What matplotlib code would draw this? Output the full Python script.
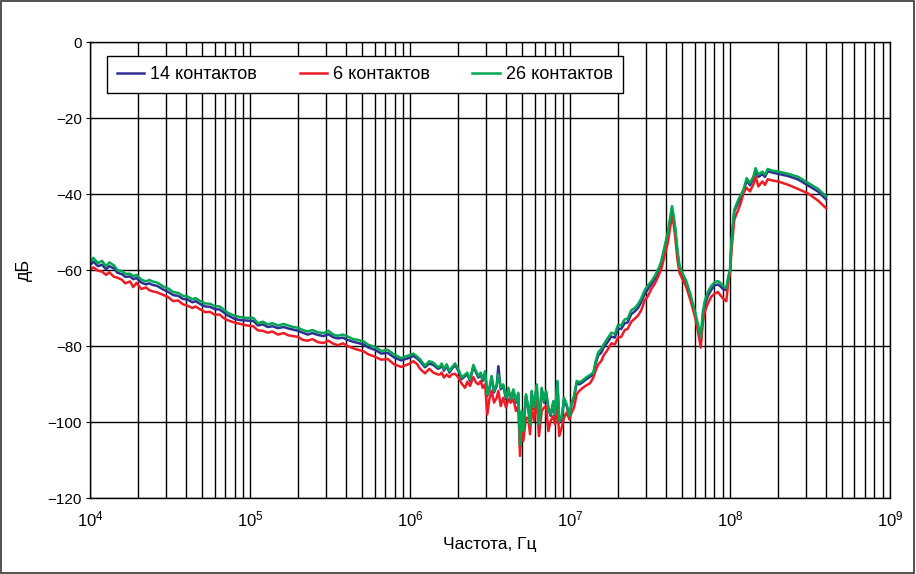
import numpy as np
import matplotlib
matplotlib.use("Agg")
import matplotlib.pyplot as plt
import matplotlib.ticker as mticker
from matplotlib import font_manager
from matplotlib.patches import Rectangle

names = {f.name for f in font_manager.fontManager.ttflist}
narrow = "Liberation Sans Narrow" if "Liberation Sans Narrow" in names else "Liberation Sans"

plt.rcParams["font.family"] = ["Liberation Sans", "DejaVu Sans"]
plt.rcParams["mathtext.fontset"] = "custom"
plt.rcParams["mathtext.rm"] = narrow
plt.rcParams["mathtext.it"] = narrow

# log10 of frequency, Hz
log_freq = [
    4.00, 4.02, 4.05, 4.075, 4.10, 4.12, 4.15, 4.17, 4.20, 4.22, 4.25, 4.27, 4.29, 4.32, 4.35, 4.37, 4.39, 4.42,
    4.46, 4.49, 4.52, 4.55, 4.58, 4.61, 4.64, 4.66, 4.69, 4.72, 4.75, 4.78, 4.81, 4.83, 4.86, 4.90, 4.94, 4.98,
    5.02, 5.05, 5.08, 5.11, 5.14, 5.175, 5.21, 5.24, 5.27, 5.30, 5.33, 5.36, 5.39, 5.425, 5.46,
    5.49, 5.52, 5.55, 5.58, 5.61, 5.645, 5.675, 5.71, 5.74, 5.78, 5.82, 5.86, 5.90, 5.945, 5.99,
    6.021, 6.045, 6.0625, 6.094, 6.12, 6.146, 6.175,
    6.1875, 6.198, 6.2125, 6.229, 6.246, 6.26, 6.281, 6.302, 6.323, 6.344, 6.358, 6.375, 6.396, 6.4125, 6.427,
    6.442, 6.454, 6.469, 6.483, 6.496, 6.51, 6.525, 6.542, 6.552, 6.567, 6.583, 6.60, 6.615, 6.629, 6.646,
    6.6625, 6.677, 6.6875, 6.698, 6.708, 6.725, 6.74, 6.75, 6.76, 6.775, 6.792, 6.806, 6.823, 6.8375, 6.85,
    6.865, 6.879, 6.896, 6.906, 6.921, 6.933, 6.948, 6.9625, 6.979, 6.996, 7.01, 7.025, 7.042, 7.058,
    7.08, 7.10, 7.125, 7.146, 7.16, 7.177, 7.195, 7.21, 7.235, 7.258, 7.28, 7.30, 7.32,
    7.342, 7.36, 7.383, 7.405, 7.425, 7.445, 7.467, 7.488, 7.508, 7.53, 7.55, 7.57, 7.59, 7.6125, 7.625, 7.6375,
    7.648, 7.658, 7.672, 7.685, 7.705, 7.727, 7.75, 7.769, 7.785, 7.80, 7.817, 7.83, 7.842, 7.862, 7.883, 7.905,
    7.925, 7.94, 7.956, 7.977, 7.99,
    8.00, 8.01, 8.027, 8.052, 8.07, 8.084, 8.104, 8.125, 8.146, 8.16, 8.177, 8.202, 8.219, 8.236, 8.26, 8.302,
    8.365, 8.427, 8.49, 8.552, 8.60,
]

# 14 contacts, dB
db_14 = [
    -58.8, -57.8, -59.0, -58.6, -59.8, -59.0, -59.6, -60.7, -61.1, -61.8, -61.7, -62.4, -62.1, -63.3, -63.8, -63.5, -63.9, -64.2,
    -65.2, -65.8, -66.6, -66.8, -67.6, -67.8, -68.5, -68.2, -69.0, -69.6, -69.7, -70.3, -70.4, -71.0, -71.9, -72.8, -73.2, -73.3,
    -73.4, -74.6, -74.3, -75.0, -74.8, -75.3, -75.0, -75.4, -75.7, -76.0, -76.5, -77.0, -76.6, -77.1, -77.4,
    -76.9, -77.7, -78.0, -77.8, -78.4, -78.9, -79.2, -79.6, -80.4, -81.0, -82.0, -81.8, -83.0, -83.8, -83.2,
    -82.6, -83.3, -84.0, -85.6, -84.6, -85.0, -86.0,
    -85.7, -85.0, -86.5, -85.2, -87.0, -86.1, -85.0, -86.5, -88.7, -87.9, -87.4, -89.2, -85.4, -87.0, -88.3,
    -87.4, -89.2, -87.0, -93.1, -91.4, -88.3, -92.2, -90.5, -85.3, -91.4, -90.5, -94.0, -91.4, -94.4, -91.8,
    -94.9, -92.7, -106.5, -97.5, -102.8, -93.1, -96.6, -101.0, -92.2, -96.6, -90.5, -101.0, -91.4, -94.9, -92.2,
    -96.6, -98.4, -94.9, -98.4, -89.6, -100.1, -99.3, -94.0, -95.8, -98.8, -95.3, -93.6, -89.7, -90.1,
    -89.5, -88.8, -88.1, -87.5, -84.6, -82.4, -81.8, -80.4, -79.0, -77.5, -77.8, -75.5, -75.5,
    -74.0, -73.8, -71.6, -70.9, -70.0, -68.5, -66.3, -65.0, -63.8, -62.4, -60.8, -58.6, -54.8, -50.5, -47.2, -44.2,
    -46.5, -49.8, -55.8, -59.6, -61.6, -63.5, -66.6, -69.6, -72.2, -74.9, -79.0, -72.2, -69.2, -66.8, -65.2, -64.0,
    -63.8, -64.3, -65.0, -65.3, -62.0,
    -60.4, -52.4, -44.5, -42.2, -40.7, -39.5, -36.5, -37.7, -36.0, -33.9, -35.5, -34.8, -35.5, -34.0, -34.3, -34.7,
    -35.3, -36.2, -37.8, -39.4, -41.4,
]

# 6 contacts, dB
db_6 = [
    -60.0, -59.3, -60.2, -60.4, -61.3, -60.6, -61.8, -62.0, -62.6, -63.5, -63.0, -64.5, -63.4, -65.0, -64.6, -65.3, -65.6, -65.9,
    -66.6, -67.2, -68.2, -68.0, -69.0, -69.4, -70.0, -69.6, -70.4, -71.1, -71.0, -71.8, -71.7, -72.5, -73.2, -73.8, -74.2, -74.6,
    -74.8, -75.9, -76.0, -76.5, -76.2, -77.0, -76.6, -77.2, -77.4, -77.6, -78.4, -78.6, -78.2, -79.0, -79.2,
    -78.6, -79.4, -79.8, -79.3, -80.0, -80.6, -81.0, -81.4, -82.2, -82.8, -83.6, -83.4, -84.8, -85.5, -84.8,
    -84.0, -84.8, -86.0, -87.2, -86.0, -87.0, -87.5,
    -87.5, -87.0, -88.3, -87.5, -88.2, -87.5, -87.3, -88.2, -89.9, -91.0, -89.4, -90.5, -88.2, -89.6, -90.1,
    -89.2, -91.0, -90.1, -98.0, -94.0, -91.8, -94.9, -93.6, -91.8, -95.8, -93.6, -96.2, -94.0, -94.9, -94.0,
    -97.1, -95.8, -108.9, -100.6, -105.0, -98.9, -98.9, -103.2, -96.2, -99.7, -94.0, -103.7, -97.1, -96.2, -95.8,
    -102.4, -99.7, -98.4, -100.6, -96.2, -103.7, -101.5, -98.9, -97.5, -99.3, -97.5, -96.2, -92.7, -91.8,
    -91.0, -90.4, -89.8, -88.3, -86.5, -84.8, -84.0, -82.5, -81.0, -79.3, -79.6, -77.8, -77.6,
    -75.8, -75.5, -73.6, -72.8, -72.0, -70.6, -68.0, -66.8, -65.0, -63.6, -61.8, -59.8, -56.5, -52.5, -49.0, -46.0,
    -48.0, -51.5, -57.4, -60.8, -62.6, -64.5, -67.6, -70.4, -73.0, -76.2, -80.4, -74.0, -71.0, -68.8, -67.0, -66.2,
    -65.8, -66.6, -67.5, -68.2, -63.0,
    -61.0, -54.5, -46.7, -44.1, -42.0, -39.7, -38.4, -39.3, -37.5, -35.4, -38.0, -36.7, -37.6, -36.1, -36.4, -36.7,
    -37.6, -38.7, -39.9, -41.8, -43.7,
]

# 26 contacts, dB
db_26 = [
    -58.0, -56.8, -58.2, -57.6, -59.0, -58.0, -58.8, -60.0, -60.3, -61.0, -61.0, -61.6, -61.3, -62.5, -63.0, -62.6, -63.0, -63.3,
    -64.4, -64.9, -65.8, -66.0, -66.8, -67.0, -67.7, -67.4, -68.2, -68.8, -68.9, -69.5, -69.6, -70.2, -71.2, -72.0, -72.4, -72.6,
    -72.6, -74.0, -73.6, -74.3, -74.0, -74.6, -74.2, -74.6, -75.0, -75.2, -75.8, -76.2, -75.8, -76.4, -76.6,
    -76.0, -77.0, -77.3, -77.0, -77.5, -78.2, -78.4, -78.8, -79.7, -80.2, -81.3, -81.0, -82.2, -83.2, -82.5,
    -82.0, -82.8, -83.5, -85.2, -84.0, -84.4, -85.6,
    -85.3, -84.6, -86.1, -84.8, -86.6, -85.7, -84.6, -86.1, -88.3, -87.5, -87.0, -88.8, -85.0, -86.6, -87.9,
    -87.0, -88.8, -86.6, -92.7, -91.0, -87.9, -91.8, -90.1, -87.5, -91.0, -90.1, -93.6, -91.0, -94.0, -91.4,
    -94.5, -92.3, -105.9, -97.1, -102.4, -92.7, -96.2, -100.6, -91.8, -96.2, -90.1, -100.6, -91.0, -94.5, -91.8,
    -96.2, -98.0, -94.5, -98.0, -89.2, -99.7, -98.9, -93.6, -95.4, -98.4, -94.9, -93.2, -89.2, -89.6,
    -89.0, -88.3, -87.6, -87.0, -84.0, -81.6, -80.8, -79.6, -78.0, -76.5, -76.8, -74.5, -74.6,
    -73.0, -72.8, -70.6, -70.0, -69.0, -67.5, -65.3, -64.0, -63.0, -61.6, -59.9, -57.8, -54.0, -49.8, -46.5, -43.2,
    -45.8, -48.9, -55.0, -59.0, -61.0, -62.9, -66.0, -69.0, -71.6, -74.3, -77.8, -71.0, -68.2, -65.8, -64.2, -63.2,
    -62.9, -63.4, -64.2, -64.7, -61.6,
    -60.0, -52.0, -44.1, -41.5, -40.0, -38.9, -35.8, -37.1, -35.4, -33.2, -34.9, -34.1, -34.9, -33.4, -33.8, -34.1,
    -34.7, -35.5, -37.1, -38.7, -40.6,
]

freq = 10 ** np.array(log_freq)

fig = plt.figure(figsize=(9.16, 5.74), dpi=100)
ax = fig.add_axes([0.0983, 0.1324, 0.8733, 0.7944])

ax.plot(freq, db_14, color="#2e3192", linewidth=1.8, label="14 контактов")
ax.plot(freq, db_6, color="#ed1c24", linewidth=1.8, label="6 контактов")
ax.plot(freq, db_26, color="#00a651", linewidth=1.8, label="26 контактов")

ax.set_xscale("log")
ax.set_xlim(1e4, 1e9)
ax.set_ylim(-120, 0)
ax.set_yticks(range(-120, 1, 20))
ax.xaxis.set_major_locator(mticker.LogLocator(base=10, numticks=10))
ax.xaxis.set_minor_locator(mticker.LogLocator(base=10, subs=np.arange(2, 10), numticks=10))
ax.xaxis.set_minor_formatter(mticker.NullFormatter())

ax.grid(True, which="both", axis="x", color="black", linewidth=1.0)
ax.grid(True, which="major", axis="y", color="black", linewidth=1.0)
ax.set_axisbelow(True)
for s in ax.spines.values():
    s.set_color("black")
    s.set_linewidth(1.0)

ax.tick_params(axis="y", direction="inout", length=6, labelsize=11, pad=3)
ax.tick_params(axis="x", which="both", length=0, labelsize=12, pad=8)

ax.set_xlabel("Частота, Гц", fontsize=12.5, family=narrow, labelpad=6)
ax.set_ylabel("дБ", fontsize=13)
ax.yaxis.set_label_coords(-0.072, 0.5)

ax.legend(loc="lower left", bbox_to_anchor=(0.021, 0.888, 0.645, 0.079), mode="expand",
          ncol=3, borderaxespad=0, fancybox=False, framealpha=1, edgecolor="black",
          handlelength=1.5, handletextpad=0.35, borderpad=0.55, prop={"size": 13})
leg = ax.get_legend()
leg.get_frame().set_linewidth(1.0)

fig.patches.append(Rectangle((0.001, 0.002), 0.997, 0.996, transform=fig.transFigure,
                             fill=False, edgecolor="#333333", linewidth=1.2))

fig.savefig("out.png", dpi=100)
